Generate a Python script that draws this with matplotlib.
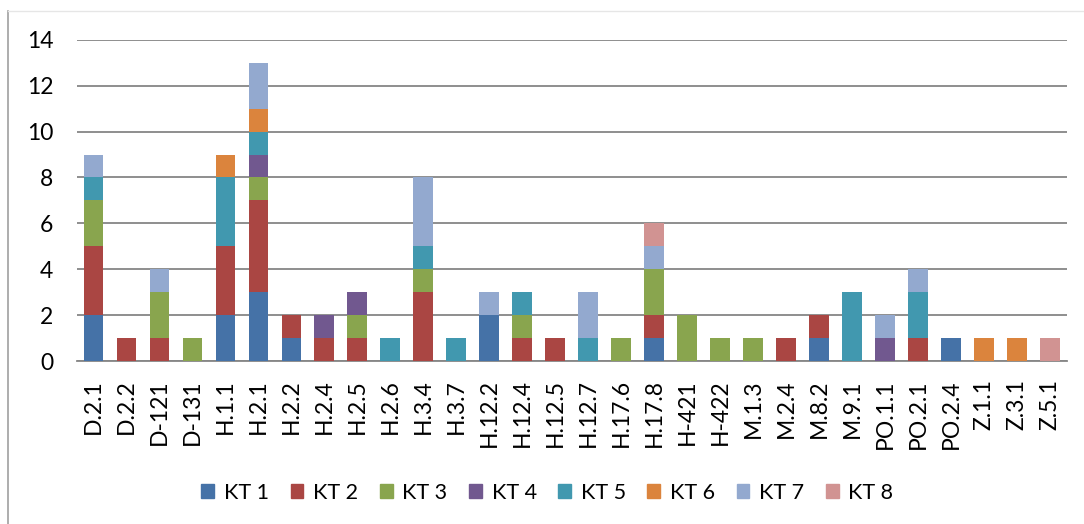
import matplotlib
matplotlib.use("Agg")
from matplotlib import pyplot as plt
from matplotlib.lines import Line2D
from matplotlib.patches import Patch
import numpy as np

plt.rcParams['font.family'] = ['Lato', 'DejaVu Sans']

categories = ['D.2.1', 'D.2.2', 'D-121', 'D-131', 'H.1.1', 'H.2.1', 'H.2.2', 'H.2.4',
              'H.2.5', 'H.2.6', 'H.3.4', 'H.3.7', 'H.12.2', 'H.12.4', 'H.12.5', 'H.12.7',
              'H.17.6', 'H.17.8', 'H-421', 'H-422', 'M.1.3', 'M.2.4', 'M.8.2', 'M.9.1',
              'PO.1.1', 'PO.2.1', 'PO.2.4', 'Z.1.1', 'Z.3.1', 'Z.5.1']

kt1 = [2, 0, 0, 0, 2, 3, 1, 0, 0, 0, 0, 0, 2, 0, 0, 0, 0, 1, 0, 0, 0, 0, 1, 0, 0, 0, 1, 0, 0, 0]
kt2 = [3, 1, 1, 0, 3, 4, 1, 1, 1, 0, 3, 0, 0, 1, 1, 0, 0, 1, 0, 0, 0, 1, 1, 0, 0, 1, 0, 0, 0, 0]
kt3 = [2, 0, 2, 1, 0, 1, 0, 0, 1, 0, 1, 0, 0, 1, 0, 0, 1, 2, 2, 1, 1, 0, 0, 0, 0, 0, 0, 0, 0, 0]
kt4 = [0, 0, 0, 0, 0, 1, 0, 1, 1, 0, 0, 0, 0, 0, 0, 0, 0, 0, 0, 0, 0, 0, 0, 0, 1, 0, 0, 0, 0, 0]
kt5 = [1, 0, 0, 0, 3, 1, 0, 0, 0, 1, 1, 1, 0, 1, 0, 1, 0, 0, 0, 0, 0, 0, 0, 3, 0, 2, 0, 0, 0, 0]
kt6 = [0, 0, 0, 0, 1, 1, 0, 0, 0, 0, 0, 0, 0, 0, 0, 0, 0, 0, 0, 0, 0, 0, 0, 0, 0, 0, 0, 1, 1, 0]
kt7 = [1, 0, 1, 0, 0, 2, 0, 0, 0, 0, 3, 0, 1, 0, 0, 2, 0, 1, 0, 0, 0, 0, 0, 0, 1, 1, 0, 0, 0, 0]
kt8 = [0, 0, 0, 0, 0, 0, 0, 0, 0, 0, 0, 0, 0, 0, 0, 0, 0, 1, 0, 0, 0, 0, 0, 0, 0, 0, 0, 0, 0, 1]

series_names = ['KT 1', 'KT 2', 'KT 3', 'KT 4', 'KT 5', 'KT 6', 'KT 7', 'KT 8']
colors = ['#4572A7', '#AA4643', '#89A54E', '#71588F', '#4198AF', '#DB843D', '#93A9CF', '#D19392']


def main():
    fig = plt.figure(figsize=(10.84, 5.24), dpi=100)
    ax = fig.add_axes([0.071, 0.311, 0.913, 0.613])

    x = np.arange(len(categories))
    bottom = np.zeros(len(categories))
    for vals, name, c in zip([kt1, kt2, kt3, kt4, kt5, kt6, kt7, kt8], series_names, colors):
        ax.bar(x, vals, 0.6, bottom=bottom, color=c, label=name, zorder=3)
        bottom += np.array(vals)

    ax.set_xlim(-0.5, len(categories) - 0.5)
    ax.set_ylim(0, 14)
    ax.set_yticks(range(0, 15, 2))
    ax.yaxis.grid(True, color='#868686', linewidth=1.3, zorder=0)
    ax.set_xticks(x)
    ax.set_xticklabels(categories, rotation=90)
    ax.tick_params(axis='both', length=0, labelsize=16.5, colors='black')
    ax.tick_params(axis='y', pad=17)
    ax.tick_params(axis='x', pad=13)
    for s in ['top', 'right', 'left']:
        ax.spines[s].set_visible(False)
    ax.spines['bottom'].set_color('#868686')
    ax.spines['bottom'].set_linewidth(1.3)

    handles = [Patch(color=c, label=n) for c, n in zip(colors, series_names)]
    fig.legend(handles=handles, loc='center', bbox_to_anchor=(0.505, 0.06), ncol=8,
               frameon=False, fontsize=15.5, handlelength=0.6, handleheight=0.6,
               handletextpad=0.45, columnspacing=1.0)

    # chart border fragments
    fig.add_artist(Line2D([8 / 1084, 8 / 1084], [0, 1 - 11 / 524], color='#A0A0A0',
                          linewidth=1.2, transform=fig.transFigure))
    fig.add_artist(Line2D([8 / 1084, 1], [1 - 11 / 524, 1 - 11 / 524], color='#E6E6E6',
                          linewidth=1.0, transform=fig.transFigure))

    fig.savefig('out.png', dpi=100)


if __name__ == "__main__":
    main()
